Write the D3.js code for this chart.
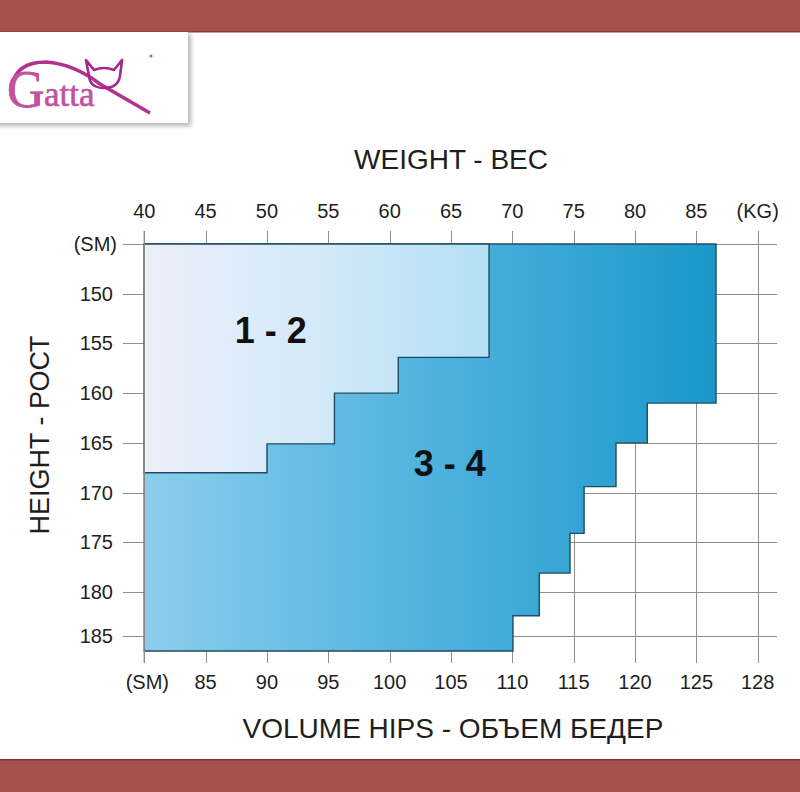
<!DOCTYPE html>
<html>
<head>
<meta charset="utf-8">
<script src="https://cdn.jsdelivr.net/npm/d3@7"></script>
<style>
  html, body { margin: 0; padding: 0; background: #ffffff; }
  svg { display: block; }
  text { font-family: "Liberation Sans", Arial, Helvetica, sans-serif; fill: #1e1e1e; }
</style>
</head>
<body>
<svg id="chart" width="800" height="792"></svg>
<script>
// ---------------- DATA ----------------
const weightTicks  = [40, 45, 50, 55, 60, 65, 70, 75, 80, 85, 90];
const weightLabels = ["40", "45", "50", "55", "60", "65", "70", "75", "80", "85", "(KG)"];
const hipsTicks    = [80, 85, 90, 95, 100, 105, 110, 115, 120, 125, 130];
const hipsLabels   = ["(SM)", "85", "90", "95", "100", "105", "110", "115", "120", "125", "128"];
const heightTicks  = [145, 150, 155, 160, 165, 170, 175, 180, 185];
const heightLabels = ["(SM)", "150", "155", "160", "165", "170", "175", "180", "185"];

// Size "1 - 2": for heights up to heightA[i], weight up to weightA[i]
const sizeA_heightTo = [156.4, 160.0, 165.1, 168.0];
const sizeA_weightTo = [68.1, 60.7, 55.5, 50.0];
// Size "3 - 4": for heights up to heightB[i], weight up to weightB[i]
const sizeB_heightTo = [161.0, 165.0, 169.4, 174.1, 178.1, 182.7, 186.7];
const sizeB_weightTo = [86.6, 81.0, 78.45, 75.85, 74.7, 72.2, 70.05];

const sizeNames = ["1 - 2", "3 - 4"];
const sizeLabelPos = [{w: 50.3, h: 155.0}, {w: 64.9, h: 168.3}];
const minWeight = 40, minHeight = 145;

// ---------------- SCALES ----------------
const svg = d3.select("#chart");
const x  = d3.scaleLinear().domain([40, 90]).range([144.3, 757.7]);
const xh = d3.scaleLinear().domain([80, 130]).range([144.3, 757.7]);
const y  = d3.scaleLinear().domain([145, 180, 185]).range([244, 592, 636]);

const gridTop = 231, gridBottom = 663, gridLeft = 123, gridRight = 777;

// ---------------- FRAME ----------------
svg.append("rect").attr("x", 0).attr("y", 0).attr("width", 800).attr("height", 32).attr("fill", "#a6514c");
svg.append("rect").attr("x", 0).attr("y", 759).attr("width", 800).attr("height", 33).attr("fill", "#a6514c");
svg.append("rect").attr("x", 0).attr("y", 31).attr("width", 800).attr("height", 1.5).attr("fill", "#8a3c38");
svg.append("rect").attr("x", 0).attr("y", 759).attr("width", 800).attr("height", 1.5).attr("fill", "#7e3a36");

// ---------------- LOGO ----------------
const defs = svg.append("defs");
const f = defs.append("filter").attr("id", "sh").attr("x", "-10%").attr("y", "-10%").attr("width", "130%").attr("height", "130%");
f.append("feGaussianBlur").attr("stdDeviation", 2.2);
svg.append("rect").attr("x", -4).attr("y", 34).attr("width", 195).attr("height", 92)
  .attr("fill", "#9a9a9a").attr("filter", "url(#sh)").attr("opacity", 0.7);
svg.append("rect").attr("x", 0).attr("y", 32).attr("width", 188).attr("height", 91).attr("fill", "#ffffff");
const logo = svg.append("g");
logo.append("path")
  .attr("d", "M 12,86 Q 16,62 46,62 Q 74,64 100,84 L 150,113")
  .attr("fill", "none").attr("stroke", "#b2338f").attr("stroke-width", 3.6);
logo.append("path")
  .attr("d", "M 86,60 L 94,70 Q 104,66 114,70 L 122,60 L 120,76 Q 118,88 104,88 Q 90,88 89,76 Z")
  .attr("fill", "none").attr("stroke", "#a7258f").attr("stroke-width", 2.6).attr("stroke-linejoin", "round");
logo.append("text").attr("x", 7).attr("y", 107)
  .style("font-family", "'Liberation Serif', 'DejaVu Serif', serif").style("fill", "#c4509e")
  .style("stroke", "#c4509e").style("stroke-width", 0.8)
  .style("font-size", "52px").text("G");
logo.append("text").attr("x", 44).attr("y", 106)
  .style("font-family", "'Liberation Serif', 'DejaVu Serif', serif").style("fill", "#c4509e")
  .style("stroke", "#c4509e").style("stroke-width", 0.6)
  .style("font-size", "35px").text("atta");
logo.append("circle").attr("cx", 151).attr("cy", 56).attr("r", 1.6).attr("fill", "#b0609a");

// ---------------- GRID ----------------
const grid = svg.append("g").attr("stroke", "#8f8f8f").attr("stroke-width", 1).attr("shape-rendering", "crispEdges");
grid.selectAll("line.v").data(weightTicks).join("line")
  .attr("x1", d => Math.round(x(d)) + 0.5).attr("x2", d => Math.round(x(d)) + 0.5)
  .attr("y1", gridTop).attr("y2", gridBottom);
grid.selectAll("line.h").data(heightTicks).join("line")
  .attr("x1", gridLeft).attr("x2", gridRight)
  .attr("y1", d => Math.round(y(d)) + 0.5).attr("y2", d => Math.round(y(d)) + 0.5);

// ---------------- GRADIENTS ----------------
const gA = defs.append("linearGradient").attr("id", "gA").attr("gradientUnits", "userSpaceOnUse")
  .attr("x1", x(40)).attr("x2", x(68.1)).attr("y1", 0).attr("y2", 0);
gA.append("stop").attr("offset", "0%").attr("stop-color", "#eceffa");
gA.append("stop").attr("offset", "50%").attr("stop-color", "#d3e9f8");
gA.append("stop").attr("offset", "100%").attr("stop-color", "#b3dff5");
const gB = defs.append("linearGradient").attr("id", "gB").attr("gradientUnits", "userSpaceOnUse")
  .attr("x1", x(40)).attr("x2", x(86.6)).attr("y1", 0).attr("y2", 0);
gB.append("stop").attr("offset", "0%").attr("stop-color", "#8bcdec");
gB.append("stop").attr("offset", "50%").attr("stop-color", "#4fb2de");
gB.append("stop").attr("offset", "100%").attr("stop-color", "#1a98c9");

// staircase polygon builder
function stairs(hTo, wTo) {
  const pts = [[x(minWeight), y(minHeight)]];
  let prevH = minHeight;
  hTo.forEach((h, i) => {
    pts.push([x(wTo[i]), y(prevH)]);
    pts.push([x(wTo[i]), y(h)]);
    prevH = h;
  });
  pts.push([x(minWeight), y(prevH)]);
  return "M" + pts.map(p => p.join(",")).join("L") + "Z";
}

svg.append("path").attr("d", stairs(sizeB_heightTo, sizeB_weightTo))
  .attr("fill", "url(#gB)").attr("stroke", "#1f4c64").attr("stroke-width", 1.4);
svg.append("path").attr("d", stairs(sizeA_heightTo, sizeA_weightTo))
  .attr("fill", "url(#gA)").attr("stroke", "#1f4c64").attr("stroke-width", 1.4);

// left axis line (grey) on top
svg.append("line").attr("x1", x(40)).attr("x2", x(40)).attr("y1", gridTop).attr("y2", gridBottom)
  .attr("stroke", "#8a8a8a").attr("stroke-width", 1.4);

// ---------------- AXIS LABELS ----------------
svg.append("g").selectAll("text").data(weightTicks).join("text")
  .attr("x", d => x(d)).attr("y", 218).attr("text-anchor", "middle")
  .style("font-size", "20px").text((d, i) => weightLabels[i]);
svg.append("g").selectAll("text").data(hipsTicks).join("text")
  .attr("x", (d, i) => xh(d) + (i === 0 ? 3 : 0)).attr("y", 689).attr("text-anchor", "middle")
  .style("font-size", "20px").text((d, i) => hipsLabels[i]);
svg.append("g").selectAll("text").data(heightTicks).join("text")
  .attr("x", (d, i) => i === 0 ? 117 : 113).attr("y", d => y(d) + 7).attr("text-anchor", "end")
  .style("font-size", "20px").text((d, i) => heightLabels[i]);

// titles
svg.append("text").attr("x", 451).attr("y", 169).attr("text-anchor", "middle")
  .style("font-size", "28px").text("WEIGHT - ВЕС");
svg.append("text").attr("x", 453).attr("y", 738).attr("text-anchor", "middle")
  .style("font-size", "28px").text("VOLUME HIPS - ОБЪЕМ БЕДЕР");
svg.append("text").attr("transform", "translate(49,435) rotate(-90)").attr("text-anchor", "middle")
  .style("font-size", "27px").text("HEIGHT - РОСТ");

// size labels
svg.append("g").selectAll("text").data(sizeNames).join("text")
  .attr("x", (d, i) => x(sizeLabelPos[i].w)).attr("y", (d, i) => y(sizeLabelPos[i].h))
  .attr("text-anchor", "middle").style("font-size", "36px").style("font-weight", "bold")
  .style("fill", "#111").text(d => d);
</script>
</body>
</html>
